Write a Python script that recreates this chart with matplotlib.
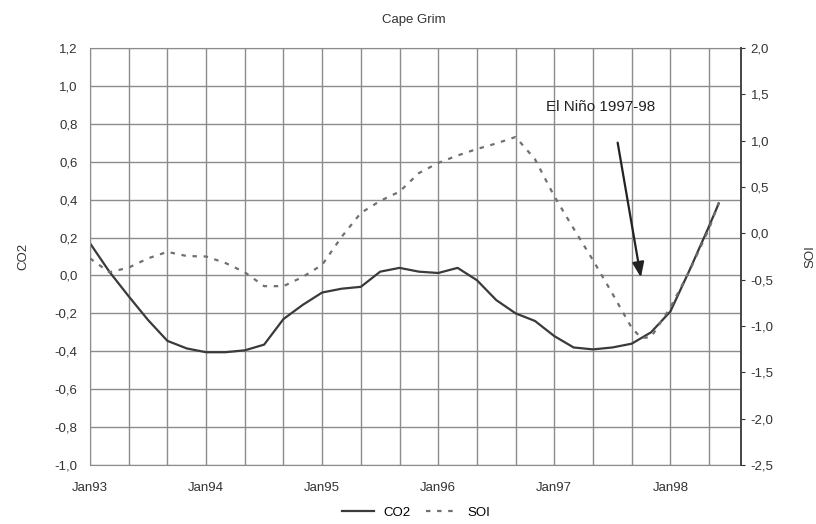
import matplotlib
matplotlib.use("Agg")
import matplotlib.pyplot as plt
from matplotlib.ticker import FixedLocator, MultipleLocator

plt.rcParams['font.family'] = ['Liberation Sans', 'DejaVu Sans']

# Months since Jan 1993
months = [0, 2, 4, 6, 8, 10, 12, 14, 16, 18, 20, 22, 24, 26, 28, 30, 32,
          34, 36, 38, 40, 42, 44, 46, 48, 50, 52, 54, 56, 58, 60, 62, 64, 65]

# CO2 anomaly (left axis)
co2 = [0.17, 0.02, -0.11, -0.235, -0.345, -0.385, -0.405, -0.405, -0.395,
       -0.365, -0.23, -0.155, -0.09, -0.07, -0.06, 0.02, 0.04, 0.02, 0.013,
       0.04, -0.025, -0.13, -0.20, -0.24, -0.32, -0.38, -0.39, -0.38, -0.36,
       -0.30, -0.19, 0.03, 0.26, 0.38]

# Southern Oscillation Index (right axis)
soi_months = [0, 2, 4, 6, 8, 10, 12, 14, 16, 18, 20, 22, 24, 26, 28, 30, 32,
              34, 36, 38, 40, 42, 44, 46, 48, 50, 52, 54, 56, 57, 58, 60, 62,
              64, 65]
soi = [-0.27, -0.42, -0.37, -0.27, -0.20, -0.245, -0.25, -0.32, -0.42, -0.57,
       -0.57, -0.47, -0.34, -0.04, 0.22, 0.35, 0.45, 0.65, 0.76, 0.84, 0.91,
       0.97, 1.04, 0.80, 0.40, 0.05, -0.29, -0.65, -1.02, -1.13, -1.12, -0.80,
       -0.40, 0.05, 0.33]

year_ticks = [0, 12, 24, 36, 48, 60]
year_labels = ["Jan93", "Jan94", "Jan95", "Jan96", "Jan97", "Jan98"]

left_ticks = [1.2, 1.0, 0.8, 0.6, 0.4, 0.2, 0.0, -0.2, -0.4, -0.6, -0.8, -1.0]
right_ticks = [2.0, 1.5, 1.0, 0.5, 0.0, -0.5, -1.0, -1.5, -2.0, -2.5]


def comma(v):
    return f"{v:.1f}".replace(".", ",")


fig = plt.figure(figsize=(8.16, 5.24), dpi=100)
ax = fig.add_axes([90 / 816, 1 - 465 / 524, 651 / 816, 417 / 524])
ax2 = ax.twinx()

grid_c = "#8c8c8c"
txt_c = "#333333"
fs = 9.5

ax.set_xlim(0, 67.3)
ax.set_ylim(-1.0, 1.2)
ax2.set_ylim(-2.5, 2.0)

ax.xaxis.set_major_locator(FixedLocator(year_ticks))
ax.set_xticklabels(year_labels)
ax.xaxis.set_minor_locator(MultipleLocator(4))
ax.set_yticks(left_ticks)
ax.set_yticklabels([comma(v) for v in left_ticks])
ax2.set_yticks(right_ticks)
ax2.set_yticklabels([comma(v) for v in right_ticks])

ax.grid(True, which="both", axis="x", color=grid_c, lw=1.0)
ax.grid(True, which="major", axis="y", color=grid_c, lw=1.0)
ax.set_axisbelow(True)

ax.tick_params(axis="x", which="both", length=0, labelsize=fs, pad=12, colors=txt_c)
ax.tick_params(axis="y", length=0, labelsize=fs, pad=9, colors=txt_c)
ax2.tick_params(axis="y", length=3, direction="out", labelsize=fs, pad=4,
                colors=txt_c)

for s in ("left", "bottom", "top"):
    ax.spines[s].set_color(grid_c)
    ax2.spines[s].set_visible(False)
ax.spines["right"].set_visible(False)
ax2.spines["right"].set_color("#444444")
ax2.spines["right"].set_linewidth(1.4)

l1, = ax.plot(months, co2, color="#3a3a3a", lw=1.6, label="CO2")
l2, = ax2.plot(soi_months, soi, color="#707070", lw=1.6,
               linestyle=(0, (2, 3)), label="SOI")

ax.set_ylabel("CO2", fontsize=fs, color=txt_c, labelpad=18)
ax2.set_ylabel("SOI", fontsize=fs, color=txt_c, rotation=90, labelpad=22)

fig.text(0.507, 0.962, "Cape Grim", ha="center", va="center", fontsize=9.5,
         color=txt_c)

ax.annotate("", xy=(57.0, -0.025), xytext=(54.5, 0.715),
            arrowprops=dict(arrowstyle="-|>,head_length=0.9,head_width=0.35",
                            color="#222222", lw=1.6))
ax.text(52.8, 0.89, "El Niño 1997-98", ha="center", va="center", fontsize=11,
        color="#222222")

fig.legend([l1, l2], ["CO2", "SOI"], loc="center", bbox_to_anchor=(0.51, 0.021),
           ncol=2, frameon=False, fontsize=9.5, handlelength=2.4,
           columnspacing=1.2, handletextpad=0.7)

fig.savefig("out.png", dpi=100)
